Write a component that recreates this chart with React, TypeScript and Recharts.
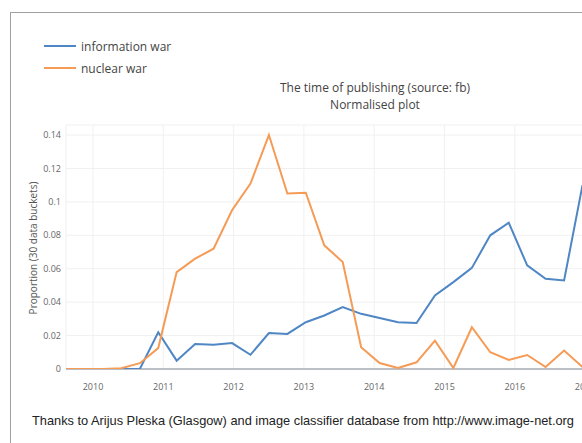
import React from "react";
import {
  LineChart,
  Line,
  XAxis,
  YAxis,
  CartesianGrid,
  ReferenceLine,
} from "recharts";

// bucket start times (decimal years), 30-bucket normalised plot
const bucketYears = [
  2009.616, 2009.878, 2010.141, 2010.403, 2010.666, 2010.928, 2011.19,
  2011.453, 2011.715, 2011.978, 2012.24, 2012.502, 2012.765, 2013.027,
  2013.29, 2013.552, 2013.814, 2014.077, 2014.339, 2014.602, 2014.864,
  2015.126, 2015.389, 2015.651, 2015.914, 2016.176, 2016.438, 2016.701,
  2016.963,
];

const informationWar = [
  0, 0, 0, 0, 0, 0.022, 0.005, 0.015, 0.0145, 0.0155, 0.0085, 0.0215, 0.021,
  0.028, 0.032, 0.037, 0.033, 0.0305, 0.028, 0.0275, 0.044, 0.052, 0.0605,
  0.08, 0.0875, 0.062, 0.054, 0.053, 0.11,
];

const nuclearWar = [
  0, 0, 0, 0.0005, 0.0035, 0.0125, 0.058, 0.066, 0.072, 0.095, 0.111, 0.14,
  0.105, 0.1055, 0.074, 0.064, 0.013, 0.0036, 0.0006, 0.004, 0.017, 0.0006,
  0.025, 0.01, 0.0054, 0.0084, 0.0012, 0.011, 0.0012,
];

const yearTicks = [2010, 2011, 2012, 2013, 2014, 2015, 2016, 2017];
const proportionTicks = [0, 0.02, 0.04, 0.06, 0.08, 0.1, 0.12, 0.14];

const BLUE = "#4f86c4";
const ORANGE = "#f59b55";
const FONT = "'Open Sans', 'Noto Sans', sans-serif";

const series = [
  { key: "info", name: "information war", color: BLUE },
  { key: "nuclear", name: "nuclear war", color: ORANGE },
];

const rows = bucketYears.map((t, i) => ({
  t,
  info: informationWar[i],
  nuclear: nuclearWar[i],
}));

export default function App() {
  return (
    <div
      style={{
        position: "absolute",
        left: 0,
        top: 0,
        width: 582,
        height: 443,
        overflow: "hidden",
        background: "#fff",
      }}
    >
      <div
        style={{
          position: "absolute",
          left: 10,
          top: 12,
          width: 620,
          height: 500,
          border: "1px solid #a0a0a0",
        }}
      />

      {/* legend */}
      <div
        style={{
          position: "absolute",
          left: 44,
          top: 35,
          fontFamily: FONT,
          fontSize: 12,
          color: "#444",
        }}
      >
        {series.map((s) => (
          <div
            key={s.key}
            style={{ display: "flex", alignItems: "center", height: 22 }}
          >
            <span
              style={{
                display: "inline-block",
                width: 32,
                height: 2,
                background: s.color,
                marginRight: 5,
              }}
            />
            <span>{s.name}</span>
          </div>
        ))}
      </div>

      <div
        style={{
          position: "absolute",
          left: 0,
          top: 79,
          width: 750,
          textAlign: "center",
          fontFamily: FONT,
          fontSize: 12,
          lineHeight: "17px",
          color: "#444",
        }}
      >
        <div>The time of publishing (source: fb)</div>
        <div>Normalised plot</div>
      </div>

      <div
        style={{
          position: "absolute",
          left: 33,
          top: 248,
          transform: "translate(-50%, -50%) rotate(-90deg)",
          whiteSpace: "nowrap",
          fontFamily: FONT,
          fontSize: 10,
          color: "#555",
        }}
      >
        Proportion (30 data buckets)
      </div>

      <div style={{ position: "absolute", left: 0, top: 0 }}>
        <LineChart
          width={620}
          height={443}
          data={rows}
          margin={{ top: 125, right: 19, left: 36, bottom: 44 }}
          style={{ fontFamily: FONT }}
        >
          <CartesianGrid stroke="#f0f0f0" strokeWidth={1} />
          <XAxis
            dataKey="t"
            type="number"
            domain={[2009.616, 2017.226]}
            ticks={yearTicks}
            allowDataOverflow
            axisLine={false}
            tickLine={false}
            tickSize={0}
            tickMargin={15}
            height={30}
            tick={{ fontSize: 9, fill: "#666" }}
            tickFormatter={(v: number) => String(v)}
          />
          <YAxis
            type="number"
            domain={[0, 0.146]}
            ticks={proportionTicks}
            allowDataOverflow
            axisLine={false}
            tickLine={false}
            tickSize={0}
            tickMargin={5}
            width={30}
            tick={{ fontSize: 9, fill: "#666" }}
            tickFormatter={(v: number) => (v === 0 ? "0" : String(+v.toFixed(2)))}
          />
          <ReferenceLine y={0} stroke="#a8aeb6" strokeWidth={1.5} />
          {series.map((s) => (
            <Line
              key={s.key}
              name={s.name}
              dataKey={s.key}
              type="linear"
              stroke={s.color}
              strokeWidth={2}
              dot={false}
              isAnimationActive={false}
            />
          ))}
        </LineChart>
      </div>

      <div
        style={{
          position: "absolute",
          left: 32,
          top: 413,
          whiteSpace: "nowrap",
          fontFamily: "'Liberation Sans', Arial, sans-serif",
          fontSize: 12.8,
          color: "#222",
        }}
      >
        Thanks to Arijus Pleska (Glasgow) and image classifier database from
        http://www.image-net.org
      </div>
    </div>
  );
}
